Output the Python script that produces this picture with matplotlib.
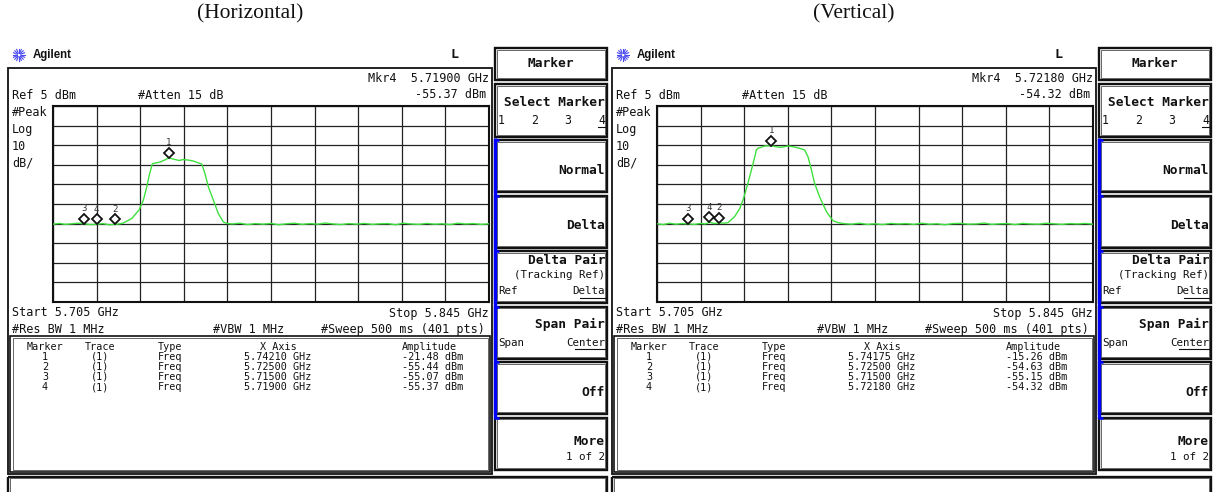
import matplotlib
matplotlib.use("Agg")
import matplotlib.pyplot as plt
import numpy as np
from matplotlib.patches import Rectangle
from matplotlib.transforms import offset_copy

W, H = 1214, 492

f_start, f_stop = 5.705, 5.845
ref_level, db_per_div = 5.0, 10.0
mkr_ids = [1, 2, 3, 4]

h_freq = [5.7050, 5.7070, 5.7090, 5.7110, 5.7130, 5.7150, 5.7170, 5.7190, 5.7210, 5.7230, 5.7250, 5.7265,
          5.7276, 5.7303, 5.7327, 5.7340, 5.7351, 5.7359, 5.7369, 5.7394, 5.7408, 5.7421, 5.7442, 5.7455,
          5.7468, 5.7485, 5.7501, 5.7528, 5.7538, 5.7549, 5.7565, 5.7581, 5.7597, 5.7608,
          5.7625, 5.7650, 5.7675, 5.7700, 5.7725, 5.7750, 5.7775, 5.7800, 5.7825, 5.7850, 5.7875, 5.7900,
          5.7925, 5.7950, 5.7975, 5.8000, 5.8025, 5.8050, 5.8075, 5.8100, 5.8125, 5.8150, 5.8175, 5.8200,
          5.8225, 5.8250, 5.8275, 5.8300, 5.8325, 5.8350, 5.8375, 5.8400, 5.8425, 5.8450]
h_amp = [-55.3, -54.9, -55.4, -55.1, -54.8, -55.07, -55.5, -55.37, -55.0, -55.6, -55.44, -55.1,
         -54.7, -52.4, -47.9, -43.1, -36.3, -30.4, -24.4, -23.6, -22.6, -21.48, -22.3, -22.8,
         -22.3, -22.6, -23.1, -24.7, -29.5, -36.3, -43.1, -49.9, -54.2, -54.9,
         -55.2, -54.8, -55.5, -55.0, -55.3, -54.9, -55.6, -55.1, -54.8, -55.4, -55.0, -55.3,
         -54.7, -55.2, -55.5, -55.0, -55.3, -54.9, -55.4, -55.1, -55.0, -55.6, -54.8, -55.2,
         -55.4, -54.9, -55.3, -55.1, -55.5, -54.8, -55.2, -55.0, -55.4, -55.1]
h_mkr_freq = [5.74210, 5.72500, 5.71500, 5.71900]
h_mkr_amp = [-21.48, -55.44, -55.07, -55.37]

v_freq = [5.7050, 5.7070, 5.7090, 5.7110, 5.7130, 5.7150, 5.7170, 5.7190, 5.7205, 5.7218, 5.7235, 5.7250, 5.7265,
          5.7278, 5.7299, 5.7316, 5.7328, 5.7342, 5.7353, 5.7364, 5.7369, 5.7374, 5.7396, 5.74175, 5.7433,
          5.7449, 5.7471, 5.7487, 5.7508, 5.7524, 5.7535, 5.7546, 5.7556, 5.7572, 5.7594, 5.7615, 5.7631,
          5.7650, 5.7675, 5.7700, 5.7725, 5.7750, 5.7775, 5.7800, 5.7825, 5.7850, 5.7875, 5.7900, 5.7925,
          5.7950, 5.7975, 5.8000, 5.8025, 5.8050, 5.8075, 5.8100, 5.8125, 5.8150, 5.8175, 5.8200, 5.8225,
          5.8250, 5.8275, 5.8300, 5.8325, 5.8350, 5.8375, 5.8400, 5.8425, 5.8450]
v_amp = [-55.1, -55.5, -54.8, -55.3, -55.0, -55.15, -55.4, -54.9, -55.2, -54.32, -55.0, -54.63, -54.8,
         -54.5, -51.5, -47.2, -42.1, -34.4, -27.7, -20.9, -17.4, -16.6, -15.4, -15.26, -15.8,
         -16.1, -15.4, -15.8, -16.6, -17.4, -20.9, -27.7, -34.4, -41.3, -48.9, -53.5, -54.5,
         -55.0, -55.3, -54.8, -55.4, -55.1, -55.5, -54.9, -55.2, -55.0, -55.4, -54.8, -55.3,
         -55.1, -55.6, -55.0, -54.9, -55.3, -55.2, -54.7, -55.4, -55.1, -55.0, -55.5, -54.9,
         -55.2, -55.3, -54.8, -55.1, -55.4, -55.0, -55.2, -54.9, -55.3]
v_mkr_freq = [5.74175, 5.72500, 5.71500, 5.72180]
v_mkr_amp = [-15.26, -54.63, -55.15, -54.32]

titles = ["(Horizontal)", "(Vertical)"]

MONO = "DejaVu Sans Mono"
INK = "#111111"
TRACE = "#3ee03e"

fig = plt.figure(figsize=(W / 100, H / 100), dpi=100)
bg = fig.add_axes([0, 0, 1, 1])
bg.set_xlim(0, W)
bg.set_ylim(H, 0)
bg.axis("off")


def box(x0, y0, x1, y1, lw=1.4, color=INK, double=False, gap=2.5):
    bg.add_patch(Rectangle((x0, y0), x1 - x0, y1 - y0, fill=False, lw=lw, ec=color))
    if double:
        bg.add_patch(Rectangle((x0 + gap, y0 + gap), x1 - x0 - 2 * gap, y1 - y0 - 2 * gap,
                               fill=False, lw=0.7, ec="#666666"))


def txt(x, y, s, size=8.5, ha="left", bold=False, family=MONO, color=INK):
    bg.text(x, y, s, fontsize=size, ha=ha, va="center", family=family,
            fontweight="bold" if bold else "normal", color=color)


def softkey(ox, top, bottom):
    box(ox + 495, top, ox + 607, bottom, lw=1.7, double=True, gap=1.8)


def draw_panel(ox, title, freq, amp, mkr_f, mkr_a):
    txt(ox + 250, 14, title, size=15.5, ha="center", family="Liberation Serif")

    # logo + header
    cx, cy = ox + 19, 55
    for ang in np.linspace(0, np.pi, 8, endpoint=False):
        dx, dy = np.cos(ang), np.sin(ang)
        bg.plot([cx - 6 * dx, cx - 2 * dx], [cy - 6 * dy, cy - 2 * dy], color="#4a4af0", lw=0.8)
        bg.plot([cx + 2 * dx, cx + 6 * dx], [cy + 2 * dy, cy + 6 * dy], color="#4a4af0", lw=0.8)
    txt(ox + 33, 55, "Agilent", size=8.3, bold=True, family="Liberation Sans")
    txt(ox + 455, 55, "L", size=9.5, ha="center", bold=True)

    # screen frame
    box(ox + 8, 68, ox + 492, 473.5, lw=1.3)
    txt(ox + 489, 78, f"Mkr4  {mkr_f[3]:.5f} GHz", ha="right")
    txt(ox + 486, 95, f"{mkr_a[3]:.2f} dBm", ha="right")
    txt(ox + 12, 95.5, "Ref 5 dBm")
    txt(ox + 138, 95.5, "#Atten 15 dB")
    for y, s in zip([112, 129, 146, 163], ["#Peak", "Log", "10", "dB/"]):
        txt(ox + 12, y, s)
    txt(ox + 12, 313, f"Start {f_start:.3f} GHz")
    txt(ox + 489, 313, f"Stop {f_stop:.3f} GHz", ha="right")
    txt(ox + 12, 329.5, "#Res BW 1 MHz")
    txt(ox + 213, 329.5, "#VBW 1 MHz")
    txt(ox + 485, 329.5, "#Sweep 500 ms (401 pts)", ha="right")

    # marker table
    box(ox + 10, 335.5, ox + 490, 472, lw=1.2, double=True)
    cols = [45, 100, 170, 278]
    for x, s in zip(cols, ["Marker", "Trace", "Type", "X Axis"]):
        txt(ox + x, 346.5, s, size=7.3, ha="center")
    txt(ox + 429, 346.5, "Amplitude", size=7.3, ha="center")
    for i, (m, f, a) in enumerate(zip(mkr_ids, mkr_f, mkr_a)):
        y = 356.5 + i * 10.2
        txt(ox + 45, y, str(m), size=7.3, ha="center")
        txt(ox + 100, y, "(1)", size=7.3, ha="center")
        txt(ox + 170, y, "Freq", size=7.3, ha="center")
        txt(ox + 278, y, f"{f:.5f} GHz", size=7.3, ha="center")
        txt(ox + 463, y, f"{a:.2f} dBm", size=7.3, ha="right")

    # softkeys
    box(ox + 495, 48, ox + 607, 79.5, lw=1.7, double=True, gap=1.8)
    txt(ox + 551, 63.5, "Marker", size=9.3, ha="center", bold=True)
    softkey(ox, 84, 137)
    txt(ox + 605, 102.5, "Select Marker", size=9.3, ha="right", bold=True)
    for x, s in zip([501, 535, 568, 602], "1234"):
        txt(ox + x, 120, s, size=8.3, ha="center")
    bg.plot([ox + 598, ox + 606], [126.5, 126.5], color=INK, lw=0.8)
    tops = [140, 195.5, 251, 306.5, 362, 417.5]
    for t in tops:
        softkey(ox, t, t + 52)
        bg.plot([ox + 494, ox + 499], [t, t], color="#0000ff", lw=1.8, solid_capstyle="butt")
    bg.plot([ox + 494.5, ox + 494.5], [137.5, 417.5], color="#0000ff", lw=2.4, solid_capstyle="butt")
    txt(ox + 605, tops[0] + 30, "Normal", size=9.3, ha="right", bold=True)
    txt(ox + 605, tops[1] + 30, "Delta", size=9.3, ha="right", bold=True)
    txt(ox + 605, tops[2] + 9, "Delta Pair", size=9.3, ha="right", bold=True)
    txt(ox + 605, tops[2] + 24, "(Tracking Ref)", size=7.8, ha="right")
    txt(ox + 498, tops[2] + 40, "Ref", size=7.8)
    txt(ox + 605, tops[2] + 40, "Delta", size=7.8, ha="right")
    bg.plot([ox + 580, ox + 605], [tops[2] + 46.5] * 2, color=INK, lw=0.8)
    txt(ox + 605, tops[3] + 18, "Span Pair", size=9.3, ha="right", bold=True)
    txt(ox + 498, tops[3] + 36, "Span", size=7.8)
    txt(ox + 605, tops[3] + 36, "Center", size=7.8, ha="right")
    bg.plot([ox + 575, ox + 605], [tops[3] + 42.5] * 2, color=INK, lw=0.8)
    txt(ox + 605, tops[4] + 30, "Off", size=9.3, ha="right", bold=True)
    txt(ox + 605, tops[5] + 24, "More", size=9.3, ha="right", bold=True)
    txt(ox + 605, tops[5] + 40, "1 of 2", size=7.8, ha="right")

    # bottom status box
    box(ox + 8, 476.5, ox + 607, 497, lw=1.7, double=True, gap=1.8)

    # graticule with trace
    gx0, gx1, gy0, gy1 = ox + 53, ox + 489, 106, 302
    ax = fig.add_axes([gx0 / W, 1 - gy1 / H, (gx1 - gx0) / W, (gy1 - gy0) / H])
    ax.set_xlim(f_start, f_stop)
    ax.set_ylim(ref_level - 10 * db_per_div, ref_level)
    ax.set_xticks(np.linspace(f_start, f_stop, 11))
    ax.set_yticks(np.linspace(ref_level - 10 * db_per_div, ref_level, 11))
    ax.tick_params(length=0, labelbottom=False, labelleft=False)
    ax.grid(True, color="#222222", lw=0.9)
    ax.set_axisbelow(True)
    for sp in ax.spines.values():
        sp.set_linewidth(1.5)
        sp.set_color(INK)
    ax.plot(freq, amp, color=TRACE, lw=1.0, zorder=3)
    up = offset_copy(ax.transData, fig=fig, x=0, y=5, units="dots")
    lab = offset_copy(ax.transData, fig=fig, x=0, y=15, units="dots")
    ax.plot(mkr_f, mkr_a, ls="none", marker="D", ms=5.2, mfc="white", mec=INK,
            mew=1.3, transform=up, zorder=4, clip_on=False)
    for m, f, a in zip(mkr_ids, mkr_f, mkr_a):
        ax.text(f, a, str(m), transform=lab, fontsize=6.5, family=MONO, ha="center",
                va="center", color="#333333", zorder=4)


draw_panel(0, titles[0], h_freq, h_amp, h_mkr_freq, h_mkr_amp)
draw_panel(604, titles[1], v_freq, v_amp, v_mkr_freq, v_mkr_amp)

fig.savefig("out.png", dpi=100)
